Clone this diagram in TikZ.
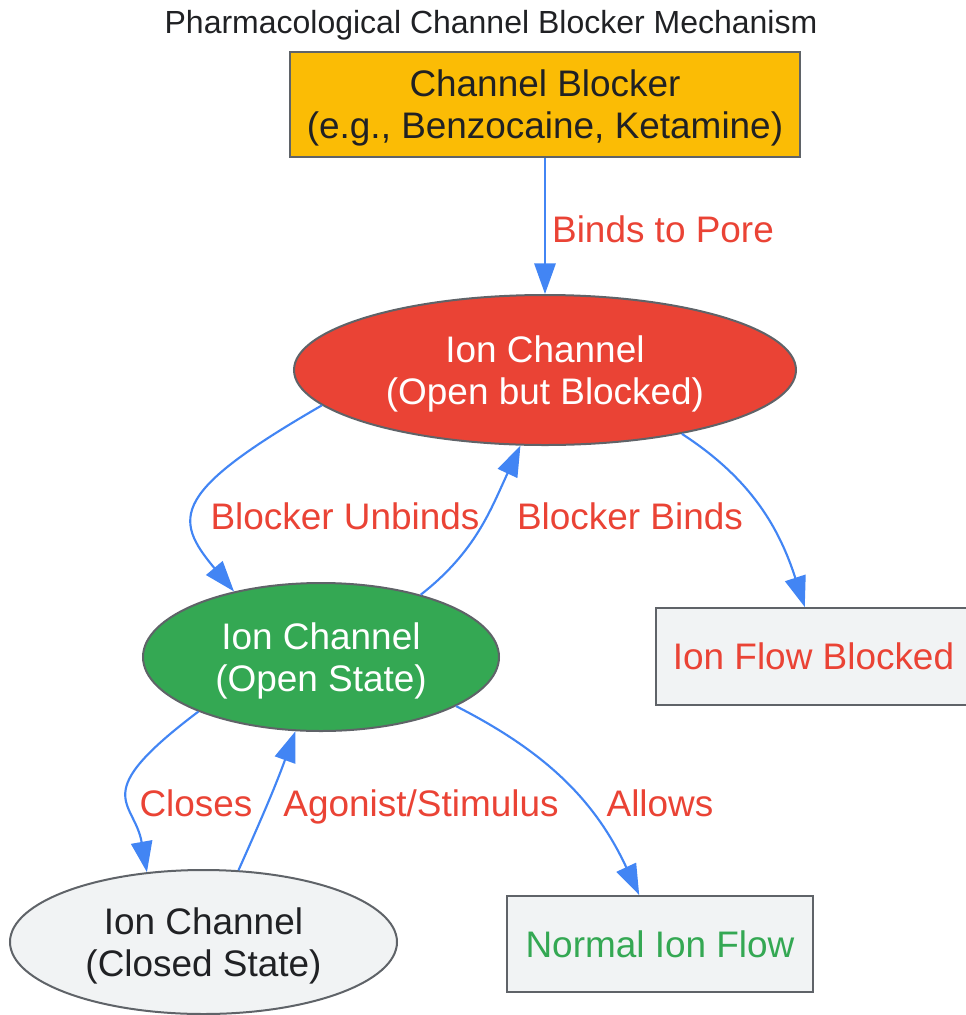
\documentclass[tikz,border=0pt]{standalone}
\usepackage{fontspec}
\setmainfont{Liberation Sans}
\usetikzlibrary{shapes.geometric,arrows.meta}

\definecolor{gyellow}{HTML}{FBBC05}
\definecolor{gred}{HTML}{EA4335}
\definecolor{ggreen}{HTML}{34A853}
\definecolor{glight}{HTML}{F1F3F4}
\definecolor{gborder}{HTML}{5F6368}
\definecolor{gdark}{HTML}{202124}
\definecolor{gblue}{HTML}{4285F4}

\begin{document}
\begin{tikzpicture}[x=0.75pt, y=0.75pt,
    every node/.style={align=center, text=gdark, font=\fontsize{27.7}{31.5}\selectfont},
    box/.style={draw=gborder, line width=1.5pt, rectangle, inner sep=0pt},
    oval/.style={draw=gborder, line width=1.5pt, ellipse, inner sep=0pt, text depth=0pt},
    lbl/.style={text=gred, anchor=base},
    link/.style={draw=gblue, line width=1.6pt, -{Triangle[length=23pt, width=16pt]}}]
        \useasboundingbox (0,0) rectangle (965,-1015);
        \node (title) [anchor=base, font=\fontsize{24}{29}\selectfont] at (491,-33) {Pharmacological Channel Blocker Mechanism};

        \node (blocker) [box, text depth=0pt, fill=gyellow, minimum width=382.5pt, minimum height=78.75pt] at (545,-104.5) {Channel Blocker\\(e.g., Benzocaine, Ketamine)};
        \node (blocked) [oval, fill=gred, text=white, minimum width=376.5pt, minimum height=112.5pt] at (545,-370) {Ion Channel\\(Open but Blocked)};
        \node (open) [oval, fill=ggreen, text=white, minimum width=267pt, minimum height=111pt] at (321,-657) {Ion Channel\\(Open State)};
        \node (closed) [oval, fill=glight, minimum width=290.25pt, minimum height=108pt] at (203.5,-942) {Ion Channel\\(Closed State)};
        \node (flowblocked) [box, fill=glight, text=gred, minimum width=236.25pt, minimum height=72.75pt] at (813.5,-656.5) {Ion Flow Blocked};
        \node (normal) [box, fill=glight, text=ggreen, minimum width=229.5pt, minimum height=72pt] at (660,-944) {Normal Ion Flow};

        \draw[link] (blocker) -- (blocked);
        \draw[link] (blocked.189) to[out=210, in=130, out distance=130pt, in distance=72pt] (open.143);
        \draw[link] (open.32) to[out=38, in=245] (blocked.252);
        \draw[link] (blocked.335) to[out=-33, in=108] (flowblocked.100);
        \draw[link] (open.204) to[out=217, in=100, out distance=105pt, in distance=55pt] (closed.129);
        \draw[link] (closed.64) to[out=66, in=250] (open.251);
        \draw[link] (open.340) to[out=-27, in=115] (normal.113);

        \node (lpore) [lbl] at (663,-242) {Binds to Pore};
        \node (lunbinds) [lbl] at (345,-529) {Blocker Unbinds};
        \node (lbinds) [lbl] at (630,-529) {Blocker Binds};
        \node (lcloses) [lbl] at (196,-816) {Closes};
        \node (lagonist) [lbl] at (421,-816) {Agonist/Stimulus};
        \node (lallows) [lbl] at (660,-816) {Allows};
    \end{tikzpicture}
\end{document}
